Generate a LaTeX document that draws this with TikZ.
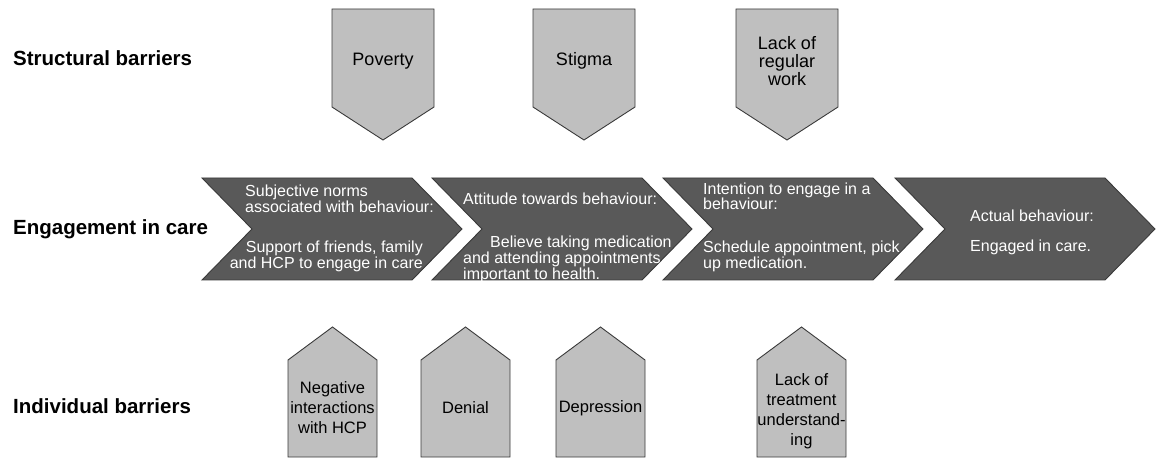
\documentclass[tikz,border=0pt]{standalone}
\usepackage{fontspec}
\setmainfont{Liberation Sans}
\definecolor{barrier}{HTML}{BFBFBF}
\definecolor{stage}{HTML}{595959}
\definecolor{edge}{HTML}{3A3A3A}
\begin{document}
\begin{tikzpicture}[x=1pt, y=-1pt,
  rowlabel/.style={anchor=base west, inner sep=0pt, font=\fontsize{20.5}{22}\selectfont\bfseries},
  barrierbox/.style={draw=edge, fill=barrier, line width=0.9pt, line join=miter},
  stagebox/.style={draw=edge, fill=stage, line width=0.9pt, line join=miter},
  toptext/.style={align=center, inner sep=0pt, font=\fontsize{18}{18.3}\selectfont},
  lowtext/.style={align=center, inner sep=0pt, font=\fontsize{16.5}{20}\selectfont},
  stagetext/.style={anchor=north west, inner sep=0pt, text=white, font=\fontsize{16}{16}\selectfont}]
\useasboundingbox (0,0) rectangle (1157,462);
\node[rowlabel] (struct) at (13,66) {Structural barriers};
\node[rowlabel] (engage) at (13,235) {Engagement in care};
\node[rowlabel] (indiv) at (13,413) {Individual barriers};
% structural barriers, pointing down
\foreach \x/\t/\n in {332/Poverty/poverty, 533/Stigma/stigma, 736/{Lack of\\regular\\work}/work}{\draw[barrierbox] (\x,9) -- (\x+102,9) -- (\x+102,107) -- (\x+51,140) -- (\x,107) -- cycle; \node[toptext] (\n) at (\x+51,61) {\t};}
% stages of engagement
\foreach \x in {202,432,663,895}{\draw[stagebox] (\x,178) -- (\x+210,178) -- (\x+260,229) -- (\x+210,280) -- (\x,280) -- (\x+50,229) -- cycle;}
\node[stagetext, align=left] (normsA) at (245,185) {Subjective norms\\associated with behaviour:};
\node[stagetext, align=right, anchor=north east] (normsB) at (423,241) {Support of friends, family\\and HCP to engage in care};
\node[stagetext] (attA) at (463,193) {Attitude towards behaviour:};
\node[stagetext, align=left, font=\fontsize{16}{14}\selectfont] (attB) at (463,236) {\hspace*{27pt}Believe taking medication\\and attending appointments\\important to health.};
\node[stagetext, align=left, font=\fontsize{16}{15}\selectfont] (intA) at (703,183) {Intention to engage in a\\behaviour:};
\node[stagetext, align=left, font=\fontsize{16}{14.5}\selectfont] (intB) at (703,241) {Schedule appointment, pick\\up medication.};
\node[stagetext] (actA) at (970,210) {Actual behaviour:};
\node[stagetext] (actB) at (970,240) {Engaged in care.};
% individual barriers, pointing up
\foreach \x/\y/\t/\n in {288/408/{Negative\\interactions\\with HCP}/hcp, 421/408/Denial/denial, 556/408/Depression/depress, 757/411/{Lack of\\treatment\\understand-\\ing}/treat}{\draw[barrierbox] (\x,360) -- (\x+44.5,327) -- (\x+89,360) -- (\x+89,457) -- (\x,457) -- cycle; \node[lowtext] (\n) at (\x+44.5,\y) {\t};}
\end{tikzpicture}
\end{document}
